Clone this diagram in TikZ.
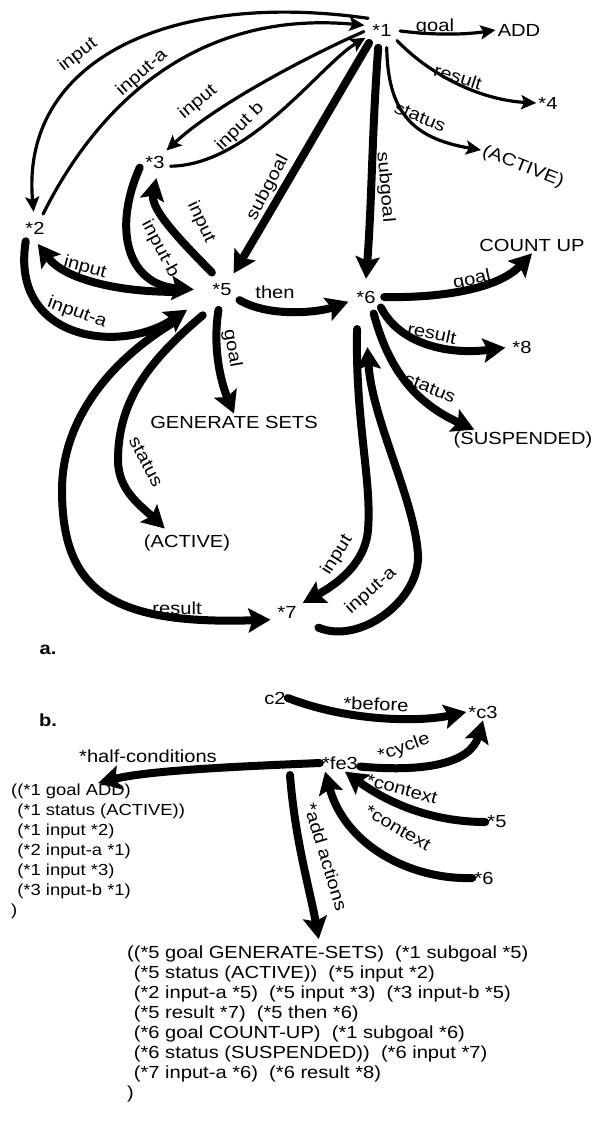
\documentclass[tikz,border=0pt]{standalone}
\usepackage{fontspec}
\setmainfont{Liberation Sans}[FakeStretch=1.15]
\usetikzlibrary{arrows.meta}
\begin{document}
\begin{tikzpicture}[x=1pt,y=-1pt,
  every node/.style={font=\fontsize{17.5}{20}\selectfont, inner sep=1pt},
  nm/.style={circle, minimum size=36pt, inner sep=0pt},
  txt/.style={inner sep=2pt},
  lab/.style={inner sep=0pt},
  lst/.style={align=left, inner sep=1pt, font=\fontsize{16}{20}\selectfont},
  lstb/.style={align=left, inner sep=1pt, font=\fontsize{17.5}{20}\selectfont},
  thin/.style={line width=3.2pt, line cap=round, -{Stealth[length=15pt,width=14pt,inset=3pt]}},
  thick/.style={line width=8pt, line cap=round, -{Stealth[length=22pt,width=24pt,inset=4pt]}}]
\useasboundingbox (0,0) rectangle (602,1137);
% ---------- part a: nodes
\node[nm] (n1) at (382,30) {*1};
\node[nm,minimum size=40pt] (n5) at (222,290) {*5};
\node[nm] (n6) at (366,297) {*6};
\node[nm,minimum size=32pt] (n2) at (35,228) {*2};
\node[nm,minimum size=32pt] (n3) at (155,162) {*3};
\node[nm] (n7) at (287,612) {*7};
\node[txt] (add) at (519,30) {ADD};
\node[txt] (n4) at (548,103) {*4};
\node[txt,rotate=-22] (act1) at (523,167) {(ACTIVE)};
\node[txt] (cu) at (532,245) {COUNT UP};
\node[txt] (n8) at (522,347) {*8};
\node[txt] (susp) at (523,440) {(SUSPENDED)};
\node[txt] (gs) at (234,422) {GENERATE SETS};
\node[txt] (act2) at (187,543) {(ACTIVE)};
\node[txt] (la) at (48,650) {\bfseries a.};
\node[txt] (lb) at (48,720) {\bfseries b.};
% ---------- part a: connectors
\draw[thin] (n1.140) .. controls (170,-10) and (20,60) .. (n2.95);
\draw[thin] (n2.60) .. controls (100,100) and (200,10) .. (n1.165);
\draw[thin] (n1.185) .. controls (310,55) and (215,105) .. (n3.45);
\draw[thin] (n3.-15) .. controls (250,165) and (320,65) .. (n1.205);
\draw[thick] (n1.225) .. controls (340,92) and (262,226) .. (n5.55);
\draw[thick] (n1.258) .. controls (372,130) and (372,200) .. (n6.90);
\draw[thin] (n1.-3) .. controls (440,36) and (470,34) .. (add.west);
\draw[thin] (n1.-35) .. controls (430,75) and (480,100) .. (n4.west);
\draw[thin] (n1.-75) .. controls (388,110) and (410,138) .. (act1.west);
\draw[thick] (n5.120) .. controls (185,245) and (150,210) .. (n3.-85);
\draw[thick, shorten >=8pt] (n3.200) .. controls (112,230) and (128,285) .. (n5.180);
\draw[thick, shorten <=28pt] (n5.185) .. controls (120,292) and (65,280) .. (n2.-80);
\draw[thick, shorten >=20pt] (n2.235) .. controls (10,340) and (120,355) .. (n5.205);
\draw[thick] (n5.-30) .. controls (270,318) and (320,312) .. (n6.195);
\draw[thick] (n5.260) .. controls (212,350) and (222,385) .. (gs.north);
\draw[thick, shorten <=12pt, shorten >=6pt] (n5.240) .. controls (150,360) and (118,400) .. (118,460) .. controls (118,490) and (140,505) .. (act2.150);
\draw[thick, shorten <=35pt] (n5.220) .. controls (110,360) and (62,420) .. (62,490) .. controls (62,590) and (110,625) .. (n7.205);
\draw[thick] (n6.0) .. controls (430,298) and (495,292) .. (cu.south);
\draw[thick, shorten >=5pt] (n6.-35) .. controls (400,345) and (450,355) .. (n8.west);
\draw[thick] (n6.-65) .. controls (390,375) and (420,405) .. (susp.168);
\draw[thick, shorten <=16pt] (n6.242) .. controls (355,420) and (372,480) .. (368,530) .. controls (365,565) and (335,585) .. (n7.30);
\draw[thick, shorten <=17pt, shorten >=32pt] (n7.-30) .. controls (360,645) and (420,600) .. (418,555) .. controls (415,500) and (372,420) .. (n6.268);
% ---------- part a: labels
\node[lab, rotate=38] (l1) at (78,55) {input};
\node[lab, rotate=42] (l2) at (142,73) {input-a};
\node[lab, rotate=40] (l3) at (198,102) {input};
\node[lab, rotate=45] (l4) at (240,127) {input b};
\node[lab, rotate=62] (l5) at (268,188) {subgoal};
\node[lab, rotate=-85] (l6) at (385,187) {subgoal};
\node[lab] (l7) at (435,27) {goal};
\node[lab, rotate=-18] (l8) at (458,77) {result};
\node[lab, rotate=-22] (l9) at (420,117) {status};
\node[lab, rotate=-65] (l10) at (201,222) {input};
\node[lab, rotate=-62] (l11) at (160,249) {input-b};
\node[lab, rotate=-15] (l12) at (85,268) {input};
\node[lab, rotate=-20] (l13) at (77,313) {input-a};
\node[lab] (l14) at (275,292) {then};
\node[lab, rotate=-80] (l15) at (232,348) {goal};
\node[lab, rotate=-62] (l16) at (146,462) {status};
\node[lab] (l17) at (177,608) {result};
\node[lab, rotate=12] (l18) at (472,280) {goal};
\node[lab, rotate=-12] (l19) at (432,333) {result};
\node[lab, rotate=-22] (l20) at (430,388) {status};
\node[lab, rotate=58] (l21) at (337,555) {input};
\node[lab, rotate=42] (l22) at (371,591) {input-a};
% ---------- part b: nodes
\node[txt] (c2) at (275,698) {c2};
\node[txt] (c3) at (483,712) {*c3};
\node[txt] (fe3) at (340,763) {*fe3};
\node[txt] (b5) at (497,822) {*5};
\node[txt] (b6) at (484,878) {*6};
\node[lst, anchor=north west] (hc) at (10,783) {((*1 goal ADD)\\
\phantom{(}(*1 status (ACTIVE))\\
\phantom{(}(*1 input *2)\\
\phantom{(}(*2 input-a *1)\\
\phantom{(}(*1 input *3)\\
\phantom{(}(*3 input-b *1)\\
)};
\node[lstb, anchor=north west] (ha) at (126,945) {((*5 goal GENERATE-SETS)\ \ (*1 subgoal *5)\\
\phantom{(}(*5 status (ACTIVE))\ \ (*5 input *2)\\
\phantom{(}(*2 input-a *5)\ \ (*5 input *3)\ \ (*3 input-b *5)\\
\phantom{(}(*5 result *7)\ \ (*5 then *6)\\
\phantom{(}(*6 goal COUNT-UP)\ \ (*1 subgoal *6)\\
\phantom{(}(*6 status (SUSPENDED))\ \ (*6 input *7)\\
\phantom{(}(*7 input-a *6)\ \ (*6 result *8)\\
)};
% ---------- part b: connectors
\draw[thick] (c2.east) .. controls (350,722) and (420,722) .. (c3.west);
\draw[thick] (fe3.-10) .. controls (420,772) and (470,765) .. (c3.south);
\draw[thick] (fe3.west) .. controls (250,766) and (150,770) .. (hc.north);
\draw[thick, shorten >=6pt] ([shift={(-50,12)}]fe3.center) .. controls (295,840) and (310,890) .. ([xshift=-8pt]ha.north);
\draw[thick] (b5.west) .. controls (440,822) and (395,808) .. (fe3.-60);
\draw[thick] (b6.west) .. controls (410,880) and (345,845) .. (fe3.-150);
% ---------- part b: labels
\node[lab, rotate=-2] (m1) at (376,704) {*before};
\node[lab, rotate=20] (m2) at (404,748) {*cycle};
\node[lab] (m3) at (148,756) {*half-conditions};
\node[lab, rotate=-15] (m4) at (402,789) {*context};
\node[lab, rotate=-30] (m5) at (398,828) {*context};
\node[lab, rotate=-73] (m6) at (326,857) {*add actions};
\end{tikzpicture}
\end{document}
